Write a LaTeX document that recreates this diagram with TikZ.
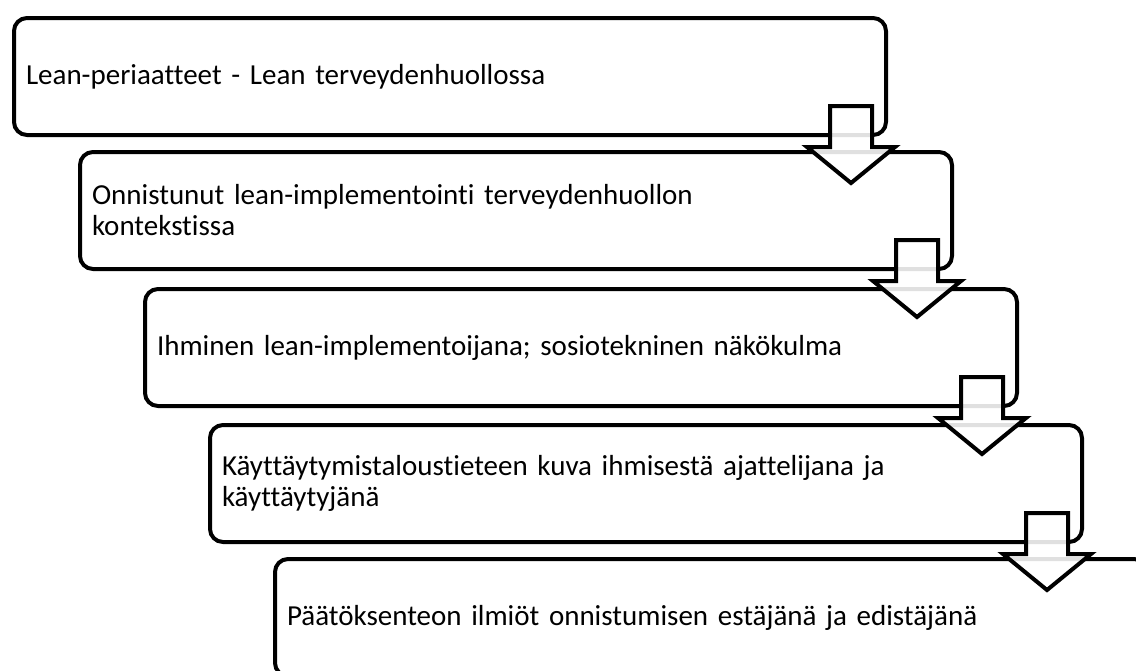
\documentclass[tikz,border=0pt]{standalone}
\usepackage{fontspec}
\setmainfont{Carlito}[Ligatures=NoCommon]
\usetikzlibrary{calc}
\begin{document}
\begin{tikzpicture}[x=1pt,y=-1pt,
  stepbox/.style={draw=black, line width=4pt, rounded corners=13pt, fill=white,
    minimum width=872pt, minimum height=117pt, text width=848pt, inner xsep=12pt,
    align=left, anchor=north west, font=\fontsize{29}{31}\selectfont},
  downarrow/.style={draw=black, line width=4pt, fill=white, fill opacity=0.88,
    line join=miter}]
\useasboundingbox (0,0) rectangle (1136,670);
\clip (0,0) rectangle (1136,670);
% the five stacked stages
\node[stepbox] (b1) at (12,16)  {Lean-periaatteet - Lean terveydenhuollossa};
\node[stepbox] (b2) at (78,150) {Onnistunut lean-implementointi terveydenhuollon\\kontekstissa};
\node[stepbox] (b3) at (143,287) {Ihminen lean-implementoijana; sosiotekninen näkökulma};
\node[stepbox] (b4) at (208,423) {Käyttäytymistaloustieteen kuva ihmisestä ajattelijana ja\\käyttäytyjänä};
\node[stepbox] (b5) at (273,557) {Päätöksenteon ilmiöt onnistumisen estäjänä ja edistäjänä};
% block arrows leading from each stage to the next
\foreach \a in {b1,b2,b3,b4}{
  \draw[downarrow] ($(\a.south east)+(-58,-31)$) -- ++(42,0) -- ++(0,41)
    -- ++(23,0) -- ++(-44,36) -- ++(-44,-36) -- ++(23,0) -- cycle;
}
\end{tikzpicture}
\end{document}
